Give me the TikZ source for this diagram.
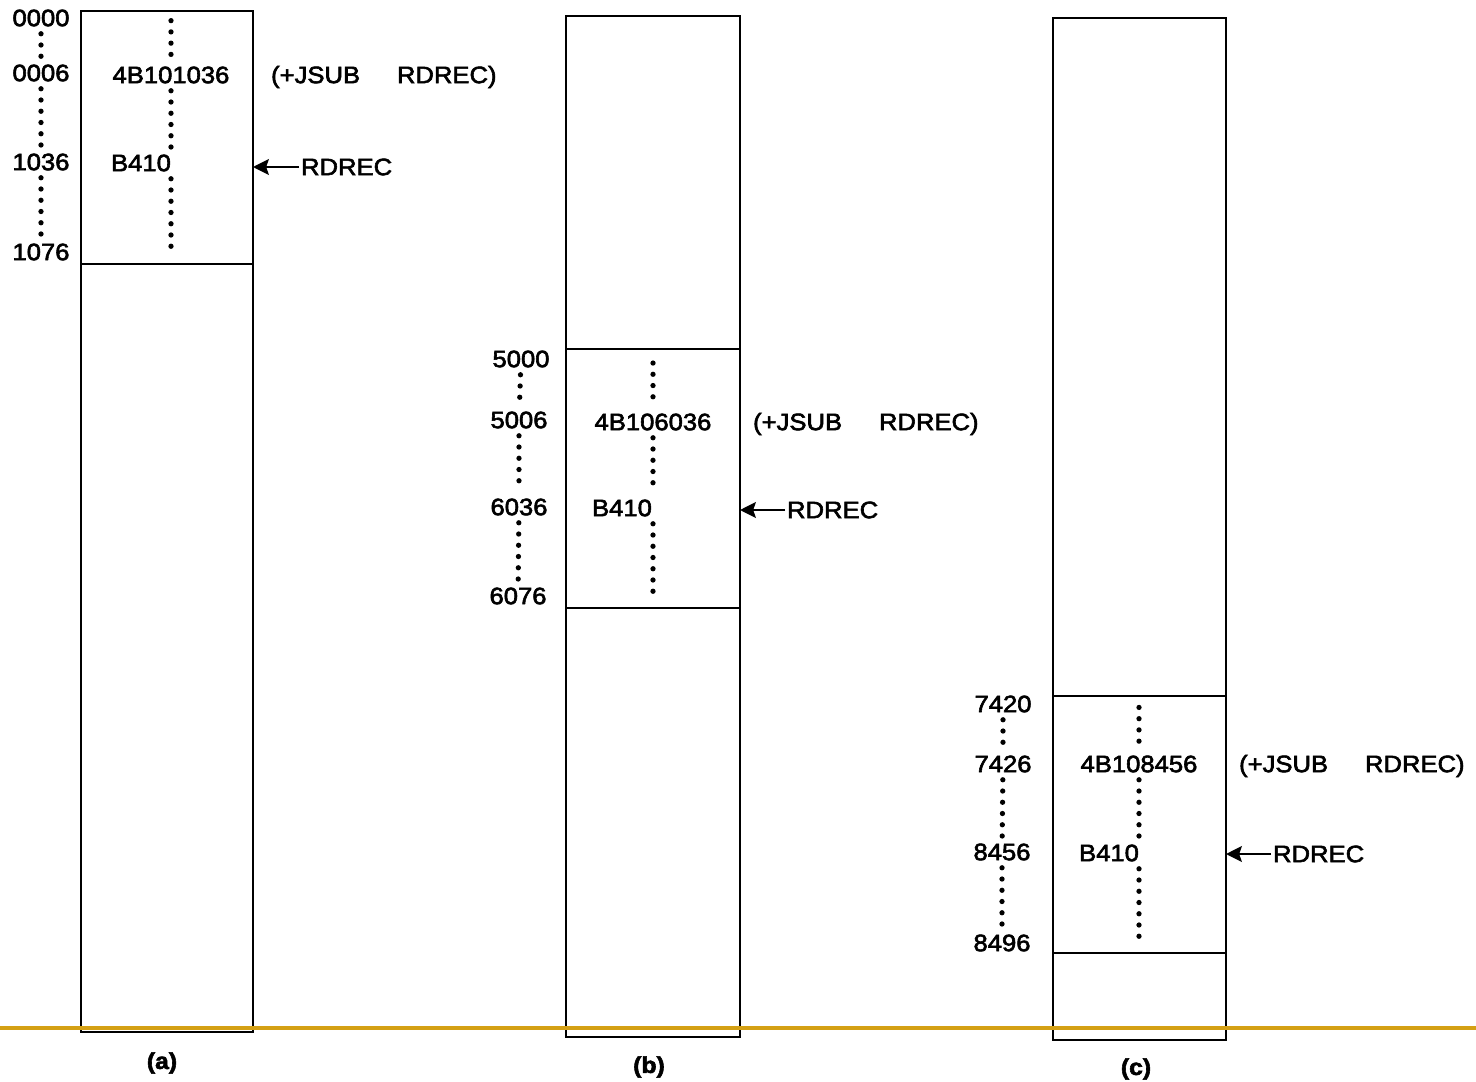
\documentclass[tikz,border=0pt]{standalone}
\usepackage{fontspec}
\setmainfont{Liberation Sans}[FakeStretch=1.08, FakeBold=2.5]
\usepackage{tikz}
\usetikzlibrary{arrows.meta}

\definecolor{rulegold}{RGB}{212,160,20}

\tikzset{
  addr/.style={inner sep=1pt, font=\fontsize{13.5}{16}\selectfont},
  figlabel/.style={inner sep=1pt, font=\fontsize{13}{16}\selectfont\bfseries},
  mem/.style={line width=1.1pt},
  dotcol/.style={line width=3pt, line cap=round, dash pattern=on 0pt off 6.4pt,
    shorten <=3pt, shorten >=3pt},
  ptr/.style={line width=1.3pt, -{Stealth[length=9pt, width=9pt, inset=1.5pt]}},
}

\begin{document}
\begin{tikzpicture}[x=0.02cm, y=-0.02cm]
\useasboundingbox (0,0) rectangle (1476,1081);

% (a)
\coordinate (aNW) at (81,11);
\coordinate (aSE) at (253,1032);
\coordinate (aD) at (81,264);
\draw[mem] (aNW) rectangle (aSE);
\draw[mem] (aD) -- (aD -| aSE);

\node[addr] (a0) at (41,18) {0000};
\node[addr] (a1) at (41,73) {0006};
\node[addr] (a2) at (41,162) {1036};
\node[addr] (a3) at (41,252) {1076};

\node[addr] (ac) at (171,75) {4B101036};
\node[addr, anchor=west] (ab) at (109,163) {B410};
\node[addr, anchor=west] (aj) at (269,77) {(+JSUB\hspace{21pt}RDREC)};
\node[addr, anchor=west] (ar) at (299,167) {RDREC};
\node[figlabel] (al) at (162,1063) {(a)};

\draw[dotcol] (a0) -- (a1);
\draw[dotcol] (a1) -- (a2);
\draw[dotcol] (a2) -- (a3);
\draw[dotcol, shorten <=5.5pt] (ac |- aNW) -- (ac);
\draw[dotcol] (ac) -- (ac |- ab.north);
\draw[dotcol, shorten >=9pt] (ac |- ab.south) -- (ac |- aD);
\draw[ptr] (ar.west) -- (ar.west -| aSE);

% (b)
\coordinate (bNW) at (566,16);
\coordinate (bSE) at (740,1037);
\coordinate (bD1) at (566,349);
\coordinate (bD2) at (566,608);
\draw[mem] (bNW) rectangle (bSE);
\draw[mem] (bD1) -- (bD1 -| bSE);
\draw[mem] (bD2) -- (bD2 -| bSE);

\node[addr] (b0) at (521,359) {5000};
\node[addr] (b1) at (519,420) {5006};
\node[addr] (b2) at (519,507) {6036};
\node[addr] (b3) at (518,596) {6076};

\node[addr] (bc) at (653,422) {4B106036};
\node[addr, anchor=west] (bb) at (590,508) {B410};
\node[addr, anchor=west] (bj) at (751,424) {(+JSUB\hspace{21pt}RDREC)};
\node[addr, anchor=west] (br) at (785,510) {RDREC};
\node[figlabel] (bl) at (649,1067) {(b)};

\draw[dotcol] (b0) -- (b1);
\draw[dotcol] (b1) -- (b2);
\draw[dotcol] (b2) -- (b3);
\draw[dotcol, shorten <=8pt] (bc |- bD1) -- (bc);
\draw[dotcol] (bc) -- (bc |- bb.north);
\draw[dotcol, shorten >=6pt] (bc |- bb.south) -- (bc |- bD2);
\draw[ptr] (br.west) -- (br.west -| bSE);

% (c)
\coordinate (cNW) at (1053,18);
\coordinate (cSE) at (1226,1040);
\coordinate (cD1) at (1053,696);
\coordinate (cD2) at (1053,953);
\draw[mem] (cNW) rectangle (cSE);
\draw[mem] (cD1) -- (cD1 -| cSE);
\draw[mem] (cD2) -- (cD2 -| cSE);

\node[addr] (c0) at (1003,704) {7420};
\node[addr] (c1) at (1003,764) {7426};
\node[addr] (c2) at (1002,852) {8456};
\node[addr] (c3) at (1002,943) {8496};

\node[addr] (cc) at (1139,764) {4B108456};
\node[addr, anchor=west] (cb) at (1077,853) {B410};
\node[addr, anchor=west] (cj) at (1237,766) {(+JSUB\hspace{21pt}RDREC)};
\node[addr, anchor=west] (cr) at (1271,854) {RDREC};
\node[figlabel] (cl) at (1136,1069) {(c)};

\draw[dotcol] (c0) -- (c1);
\draw[dotcol] (c1) -- (c2);
\draw[dotcol] (c2) -- (c3);
\draw[dotcol, shorten <=6.5pt] (cc |- cD1) -- (cc);
\draw[dotcol] (cc) -- (cc |- cb.north);
\draw[dotcol, shorten >=6pt] (cc |- cb.south) -- (cc |- cD2);
\draw[ptr] (cr.west) -- (cr.west -| cSE);

% base line
\coordinate (gl) at (0,1028);
\coordinate (gr) at (1476,1028);
\draw[rulegold, line width=1.9pt] (gl) -- (gr);

\end{tikzpicture}
\end{document}
